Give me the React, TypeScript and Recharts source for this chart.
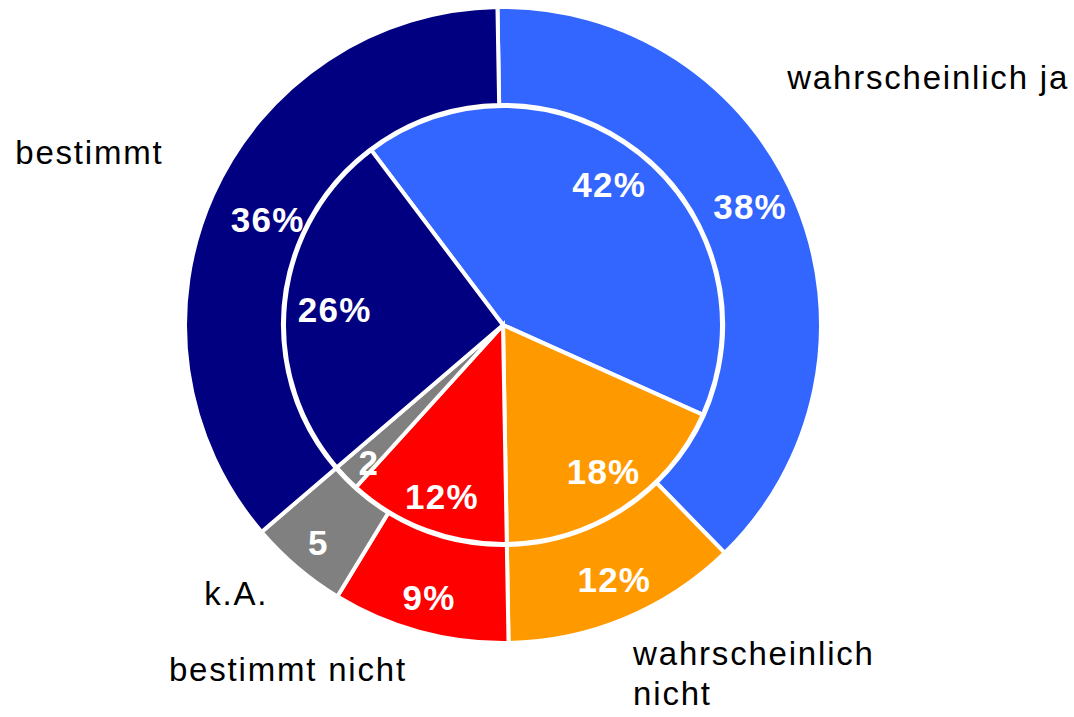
import { PieChart, Pie, Cell } from "recharts";

// categories in clockwise order from the top
const categories = [
  "wahrscheinlich ja",
  "wahrscheinlich nicht",
  "bestimmt nicht",
  "k.A.",
  "bestimmt",
];
const categoryLabels = [
  "wahrscheinlich ja",
  "wahrscheinlich\nnicht",
  "bestimmt nicht",
  "k.A.",
  "bestimmt",
];
const outerValues = [38, 12, 9, 5, 36];
const innerValues = [42, 18, 12, 2, 26];
const colors = ["#3366FF", "#FF9900", "#FF0000", "#808080", "#000080"];

// nudges for the outside category names (relative to the slice's mid-angle point)
const nameOffsets: Record<string, [number, number]> = {
  "wahrscheinlich ja": [-26, -107],
  "wahrscheinlich nicht": [1, 30],
  "bestimmt nicht": [-8, 32],
  "k.A.": [-17, 24],
  bestimmt: [-33, -23],
};
// [radius, angle nudge] of the value labels per slice
const outerLabelPos: Record<string, [number, number]> = {
  "wahrscheinlich ja": [274, 3],
  "wahrscheinlich nicht": [278, 1],
  "bestimmt nicht": [282, 0],
  "k.A.": [285, 0],
  bestimmt: [258, 0],
};
const innerLabelPos: Record<string, [number, number]> = {
  "wahrscheinlich ja": [176, 1.5],
  "wahrscheinlich nicht": [178, 1],
  "bestimmt nicht": [182, 1],
  "k.A.": [192, 1.5],
  bestimmt: [169, 1],
};

const outerData = categories.map((name, i) => ({
  name,
  label: categoryLabels[i],
  value: outerValues[i],
}));
const innerData = categories.map((name, i) => ({
  name,
  value: innerValues[i],
}));

const FONT = '"Liberation Sans", Arial, sans-serif';
const RAD = Math.PI / 180;

function fmt(name: string, v: number) {
  return name === "k.A." ? String(v) : `${v}%`;
}

function valueText(x: number, y: number, text: string) {
  return (
    <text
      x={x}
      y={y}
      fill="#fff"
      fontFamily={FONT}
      fontWeight="bold"
      fontSize={35}
      letterSpacing={1.2}
      textAnchor="middle"
      dominantBaseline="central"
    >
      {text}
    </text>
  );
}

function polar(cx: number, cy: number, r: number, deg: number) {
  return [cx + r * Math.cos(-deg * RAD), cy + r * Math.sin(-deg * RAD)];
}

function renderOuterLabel(props: any) {
  const { cx, cy, midAngle, name, value, payload } = props;
  const [r, da] = outerLabelPos[name] ?? [272, 0];
  const [vx, vy] = polar(cx, cy, r, midAngle + da);
  const cos = Math.cos(-midAngle * RAD);
  const [ax, ay] = polar(cx, cy, 336, midAngle);
  const [dx, dy] = nameOffsets[name] || [0, 0];
  const nx = ax + dx;
  const ny = ay + dy;
  const lines = String(payload?.label ?? name).split("\n");
  return (
    <g>
      {valueText(vx, vy, fmt(name, value))}
      <text
        x={nx}
        y={ny}
        fill="#000"
        fontFamily={FONT}
        fontSize={33}
        letterSpacing={1.8}
        textAnchor={cos >= 0 ? "start" : "end"}
      >
        {lines.map((l, i) => (
          <tspan key={i} x={nx} dy={i === 0 ? 0 : 40}>
            {l}
          </tspan>
        ))}
      </text>
    </g>
  );
}

function renderInnerLabel(props: any) {
  const { cx, cy, midAngle, name, value } = props;
  const [r, da] = innerLabelPos[name] ?? [180, 0];
  const [x, y] = polar(cx, cy, r, midAngle + da);
  return valueText(x, y, fmt(name, value));
}

export default function App() {
  return (
    <div style={{ position: "absolute", left: 0, top: 0, background: "#fff" }}>
      <PieChart width={1074} height={717} margin={{ top: 0, right: 0, bottom: 0, left: 0 }}>
        <Pie
          data={outerData}
          dataKey="value"
          nameKey="name"
          cx={503}
          cy={325}
          innerRadius={220}
          outerRadius={318}
          startAngle={91}
          endAngle={-269}
          stroke="#fff"
          strokeWidth={4}
          label={renderOuterLabel}
          labelLine={false}
          isAnimationActive={false}
        >
          {outerData.map((d, i) => (
            <Cell key={d.name} fill={colors[i]} />
          ))}
        </Pie>
        <Pie
          data={innerData}
          dataKey="value"
          nameKey="name"
          cx={503}
          cy={325}
          innerRadius={0}
          outerRadius={219}
          startAngle={127}
          endAngle={-233}
          stroke="#fff"
          strokeWidth={4}
          label={renderInnerLabel}
          labelLine={false}
          isAnimationActive={false}
        >
          {innerData.map((d, i) => (
            <Cell key={d.name} fill={colors[i]} />
          ))}
        </Pie>
      </PieChart>
    </div>
  );
}
